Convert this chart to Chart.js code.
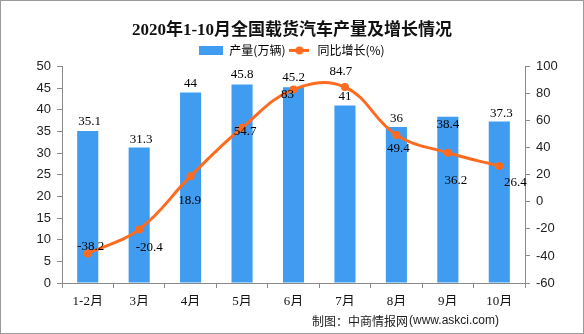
<!DOCTYPE html>
<html>
<head>
<meta charset="utf-8">
<script src="https://cdn.jsdelivr.net/npm/chart.js@4.4.1/dist/chart.umd.min.js"></script>
<style>
  html, body { margin: 0; padding: 0; background: #fff; }
  #wrap { width: 584px; height: 334px; }
</style>
</head>
<body>
<div id="wrap"><canvas id="chart" width="584" height="334"></canvas></div>
<script>
// values
const months = ['1-2月', '3月', '4月', '5月', '6月', '7月', '8月', '9月', '10月'];
const output = [35.1, 31.3, 44, 45.8, 45.2, 41, 36, 38.4, 37.3];      // 产量(万辆)
const growth = [-38.2, -20.4, 18.9, 54.7, 83, 84.7, 49.4, 36.2, 26.4]; // 同比增长(%)

const BLUE = '#3f9cf0';
const ORANGE = '#fe6a1e';
const AXIS = '#8a8a8a';

// legend icons
function barIcon() {
  const c = document.createElement('canvas');
  c.width = 24; c.height = 9;
  const g = c.getContext('2d');
  g.fillStyle = BLUE; g.fillRect(0, 0, 24, 9);
  return c;
}
function lineIcon() {
  const c = document.createElement('canvas');
  c.width = 20; c.height = 9;
  const g = c.getContext('2d');
  g.strokeStyle = ORANGE; g.lineWidth = 3;
  g.beginPath(); g.moveTo(0, 4.5); g.lineTo(20, 4.5); g.stroke();
  g.fillStyle = ORANGE; g.beginPath(); g.arc(10, 4.5, 4, 0, Math.PI * 2); g.fill();
  return c;
}

// label offsets (px) from each mark
const barLabelOffsets = [[2,-9],[2,-8],[0,-9],[0,-10],[0,-10],[0,-9],[0,-8],[0,8],[2,-8]];
const lineLabelOffsets = [[3,-7],[10,18],[-1,24],[3,4],[-6,5],[-4,-16],[2,14],[8,28],[16,17]];

const valueLabels = {
  id: 'valueLabels',
  afterDatasetsDraw(chart) {
    const ctx = chart.ctx;
    ctx.save();
    ctx.font = '13px "Liberation Serif", serif';
    ctx.fillStyle = '#000';
    ctx.textAlign = 'center';
    ctx.textBaseline = 'middle';
    [barLabelOffsets, lineLabelOffsets].forEach((offs, i) => {
      const meta = chart.getDatasetMeta(i);
      const vals = chart.data.datasets[i].data;
      meta.data.forEach((el, j) => {
        ctx.fillText(String(vals[j]), el.x + offs[j][0], el.y + offs[j][1]);
      });
    });
    ctx.restore();
  }
};

const frame = {
  id: 'frame',
  afterDraw(chart) {
    const ctx = chart.ctx;
    ctx.save();
    ctx.font = '12px "Noto Sans CJK SC", sans-serif';
    ctx.fillStyle = '#222';
    ctx.textAlign = 'right';
    ctx.textBaseline = 'middle';
    ctx.fillText('制图：中商情报网', 408, 321);
    ctx.font = '12px "Liberation Sans", sans-serif';
    ctx.textAlign = 'left';
    ctx.fillText('(www.askci.com)', 409, 321);
    ctx.strokeStyle = '#9a9a9a';
    ctx.lineWidth = 1;
    ctx.strokeRect(0.5, 0.5, 583, 333);
    ctx.restore();
  }
};

new Chart(document.getElementById('chart'), {
  data: {
    labels: months,
    datasets: [
      { type: 'bar', label: '产量(万辆)', data: output, backgroundColor: BLUE, yAxisID: 'y', order: 2,
        barPercentage: 0.82, categoryPercentage: 0.5 },
      { type: 'line', label: '同比增长(%)', data: growth, borderColor: ORANGE, backgroundColor: ORANGE,
        borderWidth: 3, pointRadius: 4, pointBackgroundColor: ORANGE, pointBorderWidth: 0,
        tension: 0.4, yAxisID: 'y1', order: 1 }
    ]
  },
  options: {
    responsive: false,
    animation: false,
    layout: { padding: { left: 0, right: 0, top: 0, bottom: 28 } },
    plugins: {
      tooltip: { enabled: false },
      title: {
        display: true,
        text: '2020年1-10月全国载货汽车产量及增长情况',
        color: '#111',
        font: { family: '"Liberation Serif", "Noto Sans CJK SC", serif', size: 17, weight: 'bold' },
        padding: { top: 20, bottom: 2 }
      },
      legend: {
        labels: {
          usePointStyle: true,
          pointStyleWidth: 24,
          boxHeight: 9,
          padding: 2,
          color: '#222',
          font: { family: '"Noto Sans CJK SC", sans-serif', size: 12 },
          generateLabels: () => [
            { text: '产量(万辆)', pointStyle: barIcon(), fillStyle: BLUE, strokeStyle: BLUE, lineWidth: 0, datasetIndex: 0 },
            { text: '同比增长(%)', pointStyle: lineIcon(), fillStyle: ORANGE, strokeStyle: ORANGE, lineWidth: 0, datasetIndex: 1 }
          ]
        }
      }
    },
    scales: {
      x: {
        grid: { display: true, drawOnChartArea: false, color: AXIS, tickLength: 5, offset: true },
        border: { color: AXIS },
        ticks: { color: '#111', padding: 6, font: { family: '"Liberation Serif", "Noto Sans CJK SC", serif', size: 13 } },
        afterFit: s => { s.height = 23; }
      },
      y: {
        position: 'left', min: 0, max: 50,
        ticks: { stepSize: 5, color: '#222', padding: 6, font: { family: '"Liberation Sans", sans-serif', size: 13 } },
        grid: { drawOnChartArea: false, color: AXIS, tickLength: 5 },
        border: { color: AXIS },
        afterFit: s => { s.width = 62; }
      },
      y1: {
        position: 'right', min: -60, max: 100,
        ticks: { stepSize: 20, color: '#222', padding: 6, font: { family: '"Liberation Sans", sans-serif', size: 13 } },
        grid: { drawOnChartArea: false, color: AXIS, tickLength: 5 },
        border: { color: AXIS },
        afterFit: s => { s.width = 59; }
      }
    }
  },
  plugins: [valueLabels, frame]
});
</script>
</body>
</html>
